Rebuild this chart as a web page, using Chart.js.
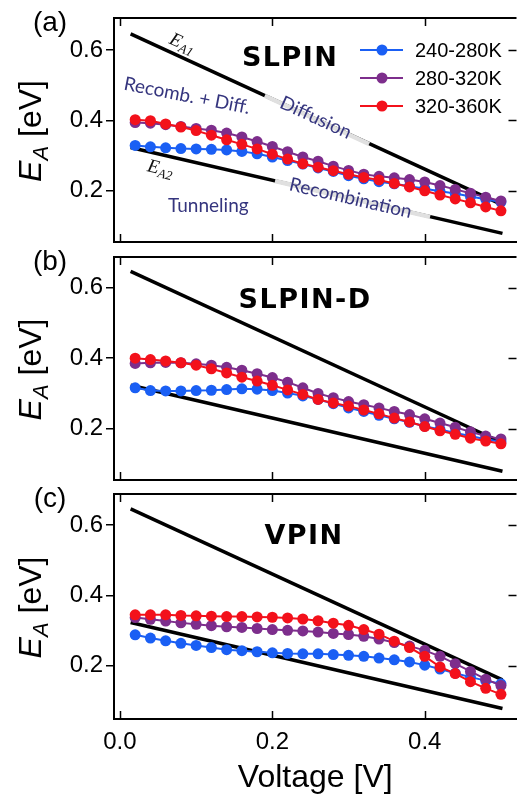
<!DOCTYPE html>
<html>
<head>
<meta charset="utf-8">
<script src="https://cdn.jsdelivr.net/npm/chart.js@4.4.0/dist/chart.umd.min.js"></script>
<style>
  html, body { margin: 0; padding: 0; background: #fff; }
  #wrap { position: relative; width: 518px; height: 798px; overflow: hidden; }
  #wrap canvas { position: absolute; left: 0; top: 0; }
</style>
</head>
<body>
<div id="wrap">
  <canvas id="chartA" width="522" height="798"></canvas>
  <canvas id="chartB" width="522" height="798"></canvas>
  <canvas id="chartC" width="522" height="798"></canvas>
</div>
<script>
// bias voltage of every measured point [V]
const voltage = [0.02, 0.04, 0.06, 0.08, 0.10, 0.12, 0.14, 0.16, 0.18, 0.20, 0.22, 0.24, 0.26,
  0.28, 0.30, 0.32, 0.34, 0.36, 0.38, 0.40, 0.42, 0.44, 0.46, 0.48, 0.50];

// activation energy [eV], SLPIN
const slpin240 = [0.329, 0.325, 0.322, 0.320, 0.319, 0.318, 0.316, 0.312, 0.305, 0.296, 0.286, 0.276, 0.265,
  0.255, 0.243, 0.234, 0.226, 0.220, 0.213, 0.206, 0.199, 0.192, 0.184, 0.176, 0.168];
const slpin280 = [0.394, 0.392, 0.388, 0.383, 0.377, 0.372, 0.364, 0.353, 0.340, 0.326, 0.311, 0.296, 0.284,
  0.270, 0.258, 0.247, 0.241, 0.237, 0.232, 0.225, 0.215, 0.204, 0.193, 0.182, 0.171];
const slpin320 = [0.402, 0.399, 0.390, 0.381, 0.371, 0.358, 0.345, 0.332, 0.319, 0.304, 0.290, 0.277, 0.267,
  0.257, 0.247, 0.238, 0.231, 0.221, 0.211, 0.200, 0.188, 0.177, 0.166, 0.154, 0.143];

// SLPIN-D
const slpinD240 = [0.316, 0.308, 0.307, 0.307, 0.308, 0.309, 0.311, 0.313, 0.312, 0.308, 0.301, 0.293, 0.283,
  0.271, 0.259, 0.249, 0.238, 0.228, 0.218, 0.207, 0.198, 0.188, 0.179, 0.170, 0.163];
const slpinD280 = [0.385, 0.387, 0.388, 0.387, 0.384, 0.380, 0.374, 0.366, 0.356, 0.345, 0.332, 0.316, 0.300,
  0.288, 0.277, 0.268, 0.259, 0.249, 0.240, 0.228, 0.216, 0.204, 0.191, 0.179, 0.171];
const slpinD320 = [0.400, 0.396, 0.392, 0.387, 0.380, 0.370, 0.358, 0.346, 0.335, 0.323, 0.310, 0.297, 0.283,
  0.273, 0.264, 0.253, 0.242, 0.230, 0.219, 0.206, 0.194, 0.184, 0.173, 0.165, 0.157];

// VPIN
const vpin240 = [0.288, 0.279, 0.271, 0.264, 0.258, 0.252, 0.246, 0.243, 0.240, 0.237, 0.235, 0.234, 0.234,
  0.232, 0.230, 0.227, 0.222, 0.217, 0.211, 0.202, 0.191, 0.179, 0.168, 0.158, 0.149];
const vpin280 = [0.337, 0.332, 0.327, 0.322, 0.318, 0.314, 0.311, 0.309, 0.306, 0.303, 0.301, 0.299, 0.296,
  0.292, 0.289, 0.284, 0.276, 0.266, 0.256, 0.244, 0.227, 0.206, 0.184, 0.162, 0.144];
const vpin320 = [0.345, 0.345, 0.345, 0.343, 0.342, 0.341, 0.340, 0.340, 0.339, 0.338, 0.336, 0.333, 0.328,
  0.321, 0.315, 0.303, 0.290, 0.270, 0.252, 0.227, 0.197, 0.178, 0.155, 0.136, 0.119];

// limiting lines E_A1 and E_A2 (end points)
const ea1Volt = [0.014, 0.502];
const ea1Energy = [0.646, 0.160];
const ea2Volt = [0.014, 0.502];
const ea2Energy = [0.323, 0.079];
// pale stretches of those lines under the "Diffusion" / "Recombination" labels
const ea1PaleVolt = [0.190, 0.327];
const ea1PaleEnergy = [0.470, 0.333];
const ea2PaleVolt = [0.2035, 0.407];
const ea2PaleEnergy = [0.228, 0.126];

const seriesLabels = ['240-280K', '280-320K', '320-360K'];
const seriesColors = ['#1a5ff4', '#7d2e8c', '#f3111b'];
const xTicks = [0.0, 0.2, 0.4];
const yTicks = [0.2, 0.4, 0.6];

const noteColor = '#35357e';
const sans = "'Liberation Sans', Arial, sans-serif";

function pts(xs, ys) {
  return xs.map((v, i) => ({ x: v, y: ys[i] }));
}

// draws a string made of [text, font, dy] pieces centred on the current origin
function drawPieces(ctx, pieces) {
  let total = 0;
  pieces.forEach(p => { ctx.font = p[1]; total += ctx.measureText(p[0]).width; });
  let cx = -total / 2;
  pieces.forEach(p => {
    ctx.font = p[1];
    ctx.fillText(p[0], cx, p[2]);
    cx += ctx.measureText(p[0]).width;
  });
}

const panelDecor = {
  id: 'panelDecor',
  afterDatasetsDraw(chart, args, opts) {
    const { ctx, chartArea: area, scales: { x, y } } = chart;
    const lineAngle = (vs, es) => Math.atan2(
      y.getPixelForValue(es[1]) - y.getPixelForValue(es[0]),
      x.getPixelForValue(vs[1]) - x.getPixelForValue(vs[0]));
    ctx.save();

    // region notes
    (opts.notes || []).forEach(n => {
      let ang = n.angle * Math.PI / 180;
      if (n.along === 'ea1') ang = lineAngle(ea1Volt, ea1Energy);
      if (n.along === 'ea2') ang = lineAngle(ea2Volt, ea2Energy);
      ctx.save();
      ctx.translate(x.getPixelForValue(n.v), y.getPixelForValue(n.e));
      ctx.rotate(ang);
      ctx.fillStyle = n.sub ? '#111' : noteColor;
      ctx.textAlign = 'left';
      ctx.textBaseline = 'middle';
      if (n.sub) {
        drawPieces(ctx, [['E', "italic 19px 'Liberation Serif', serif", 0],
                         [n.sub, "italic 13px 'Liberation Serif', serif", 5]]);
      } else {
        drawPieces(ctx, [[n.text, "19px Lato, sans-serif", 0]]);
      }
      ctx.restore();
    });

    // device name
    ctx.fillStyle = '#000';
    ctx.textAlign = 'center';
    ctx.textBaseline = 'middle';
    ctx.font = "bold 27px 'DejaVu Sans', sans-serif";
    if ('letterSpacing' in ctx) ctx.letterSpacing = '1.5px';
    ctx.fillText(opts.name, x.getPixelForValue(opts.nameAt[0]), y.getPixelForValue(opts.nameAt[1]));
    if ('letterSpacing' in ctx) ctx.letterSpacing = '0px';

    // legend
    if (opts.legend) {
      chart.data.datasets.slice(0, 3).forEach(ds => {
        const i2 = seriesLabels.indexOf(ds.label);
        const ry = area.top + 32 + i2 * 28;
        const lx = area.left + 246;
        ctx.strokeStyle = ds.borderColor;
        ctx.lineWidth = 2;
        ctx.beginPath();
        ctx.moveTo(lx, ry);
        ctx.lineTo(lx + 43, ry);
        ctx.stroke();
        ctx.fillStyle = ds.borderColor;
        ctx.beginPath();
        ctx.arc(lx + 22, ry, 5.5, 0, Math.PI * 2);
        ctx.fill();
        ctx.fillStyle = '#000';
        ctx.textAlign = 'left';
        ctx.font = '20px ' + sans;
        ctx.fillText(ds.label, lx + 55, ry + 1);
      });
    }
    ctx.restore();
  },
  afterDraw(chart, args, opts) {
    const { ctx, chartArea: area, scales: { x, y } } = chart;
    ctx.save();
    ctx.strokeStyle = '#000';
    // top spine
    ctx.lineWidth = 2;
    ctx.beginPath();
    ctx.moveTo(area.left - 1, area.top);
    ctx.lineTo(area.right, area.top);
    ctx.stroke();
    // inward ticks on top, bottom and right
    ctx.lineWidth = 1.5;
    ctx.beginPath();
    xTicks.forEach(v => {
      const px = Math.round(x.getPixelForValue(v)) + 0.5;
      ctx.moveTo(px, area.bottom);
      ctx.lineTo(px, area.bottom - 8);
      ctx.moveTo(px, area.top);
      ctx.lineTo(px, area.top + 8);
    });
    yTicks.forEach(v => {
      const py = Math.round(y.getPixelForValue(v)) + 0.5;
      ctx.moveTo(area.right, py);
      ctx.lineTo(area.right - 8, py);
    });
    ctx.stroke();

    // panel tag
    ctx.fillStyle = '#000';
    ctx.textAlign = 'center';
    ctx.textBaseline = 'middle';
    ctx.font = '28px ' + sans;
    ctx.fillText(opts.tag, area.left - 64, area.top + 5);

    // y axis title  E_A [eV]
    ctx.translate(41, (area.top + area.bottom) / 2 + 1);
    ctx.rotate(-Math.PI / 2);
    ctx.textAlign = 'left';
    ctx.textBaseline = 'alphabetic';
    drawPieces(ctx, [['E', 'italic 32px ' + sans, 0],
                     ['A', 'italic 22px ' + sans, 7],
                     [' [eV]', '32px ' + sans, 0]]);
    ctx.restore();
  }
};

function makePanel(id, cfg) {
  const datasets = cfg.series.map((vals, i) => ({
    label: seriesLabels[i],
    data: pts(voltage, vals),
    borderColor: seriesColors[i],
    backgroundColor: seriesColors[i],
    borderWidth: 2,
    pointRadius: 5.5,
    pointHoverRadius: 5.5,
    pointBorderWidth: 0,
    order: 3 - i
  }));
  // E_A1 and E_A2
  [[ea1Volt, ea1Energy], [ea2Volt, ea2Energy]].forEach(l => {
    datasets.push({
      label: 'limit', data: pts(l[0], l[1]), borderColor: '#000', borderWidth: 3.5,
      pointRadius: 0, order: 10
    });
  });
  if (cfg.pale) {
    [[ea1PaleVolt, ea1PaleEnergy], [ea2PaleVolt, ea2PaleEnergy]].forEach(l => {
      datasets.push({
        label: 'pale', data: pts(l[0], l[1]), borderColor: '#e0e0e0', borderWidth: 4.5,
        pointRadius: 0, order: 9
      });
    });
  }

  return new Chart(document.getElementById(id), {
    type: 'line',
    data: { datasets: datasets },
    options: {
      responsive: false,
      animation: false,
      events: [],
      layout: { padding: { top: cfg.top, bottom: cfg.bottom, left: 0, right: 1 } },
      plugins: {
        legend: { display: false },
        tooltip: { enabled: false },
        panelDecor: cfg.decor
      },
      scales: {
        x: {
          type: 'linear',
          min: -0.0078,
          max: 0.5204,
          afterBuildTicks: s => { s.ticks = xTicks.map(v => ({ value: v })); },
          afterFit: s => { s.height = cfg.xHeight; },
          grid: { display: false, drawTicks: false },
          border: { display: true, color: '#000', width: 2 },
          ticks: {
            display: cfg.showX, color: '#000', padding: 9, maxRotation: 0,
            font: { family: sans, size: 24 },
            callback: v => v.toFixed(1)
          },
          title: {
            display: cfg.showX, text: 'Voltage [V]', color: '#000',
            font: { family: sans, size: 32 }, padding: { top: 0, bottom: 1 }
          }
        },
        y: {
          type: 'linear',
          min: cfg.yMin,
          max: cfg.yMax,
          afterBuildTicks: s => { s.ticks = yTicks.map(v => ({ value: v })); },
          afterFit: s => { s.width = 114; },
          grid: { drawOnChartArea: false, drawTicks: true, tickLength: 8, color: '#000', lineWidth: 1.5 },
          border: { display: true, color: '#000', width: 2 },
          ticks: {
            color: '#000', padding: 3,
            font: { family: sans, size: 24 },
            callback: v => v.toFixed(1)
          }
        }
      }
    },
    plugins: [panelDecor]
  });
}

makePanel('chartA', {
  series: [slpin240, slpin280, slpin320],
  pale: true,
  top: 18, bottom: 556, xHeight: 0, showX: false,
  yMin: 0.0545, yMax: 0.691,
  decor: {
    tag: '(a)', name: 'SLPIN', nameAt: [0.2234, 0.574], legend: true,
    notes: [
      { text: 'Recomb. + Diff.', v: 0.088, e: 0.470, angle: 11 },
      { text: 'Diffusion', v: 0.257, e: 0.408, along: 'ea1' },
      { text: 'Recombination', v: 0.3026, e: 0.179, along: 'ea2' },
      { text: 'Tunneling', v: 0.116, e: 0.157, angle: 0 },
      { sub: 'A1', v: 0.0818, e: 0.6176, along: 'ea1' },
      { sub: 'A2', v: 0.053, e: 0.2616, along: 'ea2' }
    ]
  }
});

makePanel('chartB', {
  series: [slpinD240, slpinD280, slpinD320],
  pale: false,
  top: 257, bottom: 318, xHeight: 0, showX: false,
  yMin: 0.0544, yMax: 0.687,
  decor: { tag: '(b)', name: 'SLPIN-D', nameAt: [0.243, 0.562], legend: false, notes: [] }
});

makePanel('chartC', {
  series: [vpin240, vpin280, vpin320],
  pale: false,
  top: 494, bottom: 0, xHeight: 79, showX: true,
  yMin: 0.049, yMax: 0.688,
  decor: { tag: '(c)', name: 'VPIN', nameAt: [0.2416, 0.566], legend: false, notes: [] }
});
</script>
</body>
</html>
